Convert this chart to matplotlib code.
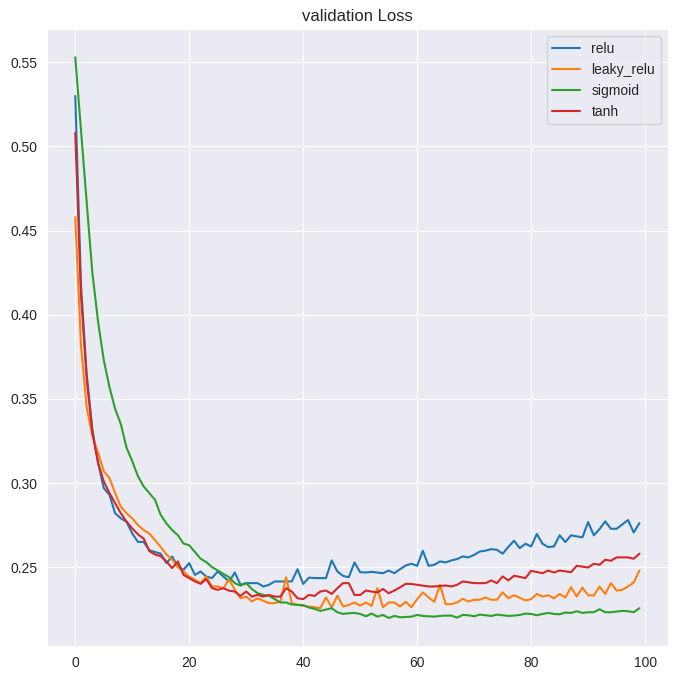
import matplotlib
matplotlib.use("Agg")
import matplotlib.pyplot as plt
import seaborn as sns
import numpy as np

sns.set_style("darkgrid")
plt.rcParams["font.family"] = ["Liberation Sans", "DejaVu Sans"]
plt.rcParams["font.size"] = 10
plt.rcParams["xtick.labelsize"] = 10
plt.rcParams["ytick.labelsize"] = 10
plt.rcParams["axes.titlesize"] = 12
plt.rcParams["legend.fontsize"] = 10

epochs = list(range(100))

relu = [0.530, 0.418, 0.365, 0.332, 0.312, 0.297, 0.293, 0.282, 0.279, 0.277,
        0.270, 0.265, 0.265, 0.260, 0.259, 0.258, 0.2524, 0.2563, 0.2505, 0.2484,
        0.2524, 0.2454, 0.2474, 0.2444, 0.2435, 0.2474, 0.2444, 0.2415, 0.2468, 0.2395,
        0.2405, 0.2405, 0.2405, 0.2385, 0.2395, 0.2415, 0.2415, 0.2415, 0.2415, 0.2488,
        0.2400, 0.2438, 0.2435, 0.2435, 0.2435, 0.2540, 0.2474, 0.2448, 0.2440, 0.2528,
        0.2470, 0.2468, 0.2472, 0.2468, 0.2464, 0.2480, 0.2464, 0.2488, 0.2510, 0.2520,
        0.2508, 0.2597, 0.2508, 0.2514, 0.2534, 0.2528, 0.2540, 0.2548, 0.2564, 0.2558,
        0.2573, 0.2593, 0.2598, 0.2607, 0.2603, 0.2580, 0.2620, 0.2657, 0.2613, 0.2639,
        0.2623, 0.2697, 0.2639, 0.2619, 0.2623, 0.2689, 0.2649, 0.2689, 0.2683, 0.2677,
        0.2768, 0.2689, 0.2726, 0.2772, 0.2728, 0.2728, 0.2754, 0.2780, 0.2706, 0.2762]

leaky_relu = [0.458, 0.382, 0.345, 0.328, 0.318, 0.307, 0.303, 0.294, 0.286, 0.282,
              0.279, 0.275, 0.272, 0.270, 0.266, 0.262, 0.2575, 0.2545, 0.2500, 0.2474,
              0.2444, 0.2425, 0.2405, 0.2444, 0.2385, 0.2385, 0.2375, 0.2428, 0.2365, 0.2315,
              0.2325, 0.2296, 0.2315, 0.2300, 0.2286, 0.2286, 0.2296, 0.2440, 0.2286, 0.2276,
              0.2270, 0.2266, 0.2262, 0.2256, 0.2320, 0.2260, 0.2331, 0.2266, 0.2275, 0.2290,
              0.2272, 0.2290, 0.2270, 0.2375, 0.2262, 0.2290, 0.2290, 0.2266, 0.2294, 0.2262,
              0.2310, 0.2350, 0.2320, 0.2294, 0.2395, 0.2280, 0.2280, 0.2290, 0.2312, 0.2296,
              0.2306, 0.2306, 0.2320, 0.2306, 0.2306, 0.2350, 0.2315, 0.2333, 0.2318, 0.2302,
              0.2310, 0.2341, 0.2325, 0.2333, 0.2315, 0.2341, 0.2319, 0.2381, 0.2325, 0.2379,
              0.2333, 0.2331, 0.2385, 0.2341, 0.2405, 0.2361, 0.2365, 0.2385, 0.2409, 0.2480]

sigmoid = [0.553, 0.510, 0.467, 0.425, 0.396, 0.373, 0.357, 0.344, 0.335, 0.321,
           0.313, 0.304, 0.298, 0.294, 0.290, 0.281, 0.276, 0.272, 0.269, 0.264,
           0.263, 0.259, 0.255, 0.253, 0.250, 0.248, 0.246, 0.244, 0.2405, 0.239,
           0.2405, 0.237, 0.2345, 0.2335, 0.233, 0.231, 0.229, 0.229, 0.2278, 0.2276,
           0.2274, 0.226, 0.2252, 0.224, 0.2248, 0.2256, 0.2232, 0.2222, 0.2226, 0.2228,
           0.2222, 0.2208, 0.2224, 0.2206, 0.2216, 0.2198, 0.2210, 0.2202, 0.2204, 0.2206,
           0.2216, 0.2210, 0.2208, 0.2206, 0.2210, 0.2212, 0.2212, 0.2200, 0.2216, 0.2214,
           0.2208, 0.2218, 0.2214, 0.2210, 0.2218, 0.2214, 0.2210, 0.2212, 0.2216, 0.2224,
           0.2222, 0.2214, 0.2222, 0.2228, 0.2222, 0.2220, 0.2230, 0.2228, 0.2238, 0.2228,
           0.2232, 0.2232, 0.2250, 0.2232, 0.2232, 0.2236, 0.2240, 0.2238, 0.2232, 0.2256]

tanh = [0.508, 0.412, 0.362, 0.330, 0.312, 0.301, 0.294, 0.288, 0.282, 0.277,
        0.273, 0.2695, 0.267, 0.2595, 0.2575, 0.2565, 0.2534, 0.2494, 0.2534, 0.2454,
        0.2435, 0.2415, 0.2401, 0.2429, 0.2375, 0.2365, 0.2375, 0.2360, 0.2355, 0.2329,
        0.2355, 0.2325, 0.2335, 0.2325, 0.2335, 0.2325, 0.2325, 0.2375, 0.2355, 0.2315,
        0.2310, 0.2335, 0.2329, 0.2355, 0.2361, 0.2341, 0.2375, 0.2405, 0.2405, 0.2335,
        0.2335, 0.2361, 0.2355, 0.2350, 0.2370, 0.2345, 0.2361, 0.2380, 0.2401, 0.2400,
        0.2395, 0.2390, 0.2385, 0.2385, 0.2388, 0.2391, 0.2385, 0.2395, 0.2415, 0.2410,
        0.2405, 0.2405, 0.2405, 0.2421, 0.2405, 0.2445, 0.2421, 0.2449, 0.2442, 0.2435,
        0.2478, 0.2471, 0.2464, 0.2480, 0.2468, 0.2480, 0.2475, 0.2470, 0.2508, 0.2503,
        0.2498, 0.2520, 0.2514, 0.2544, 0.2538, 0.2558, 0.2558, 0.2558, 0.2550, 0.2580]

series = {"relu": relu, "leaky_relu": leaky_relu, "sigmoid": sigmoid, "tanh": tanh}
colors = ["#1f77b4", "#ff7f0e", "#2ca02c", "#d62728"]

fig = plt.figure(figsize=(6.76, 6.8), dpi=100)
ax = fig.add_axes([0.0696, 0.050, 0.918, 0.907])
for (name, vals), c in zip(series.items(), colors):
    ax.plot(epochs, vals, label=name, color=c, linewidth=1.5)
ax.set_title("validation Loss")
ax.legend(loc="upper right")
fig.savefig("out.png", dpi=100)
